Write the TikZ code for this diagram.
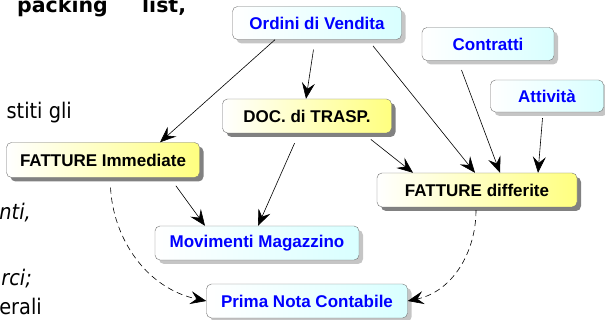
\documentclass[tikz,border=0pt]{standalone}
\usepackage{fontspec}
\setmainfont{DejaVu Sans}
\newfontfamily\pagefont{DejaVu Sans}[FakeStretch=0.9]
\newfontfamily\boxfont{Liberation Sans}
\usetikzlibrary{arrows.meta,shadows}

\tikzset{
  box/.style={rounded corners=5pt, draw=black!55, thin, inner sep=0pt,
    font=\boxfont\bfseries\fontsize{17}{19}\selectfont},
  docbox/.style={box, left color=white, right color=yellow!50,
    drop shadow={shadow xshift=4pt, shadow yshift=-4pt, fill=black!70, opacity=0.7}},
  infobox/.style={box, left color=white, right color=cyan!15, text=blue,
    drop shadow={shadow xshift=4pt, shadow yshift=-4pt, fill=black!45, opacity=0.5}},
  link/.style={-{Stealth[length=16pt,width=13pt,inset=6pt]}, line width=0.6pt},
  lazylink/.style={link, dash pattern=on 6pt off 4pt},
  frag/.style={font=\pagefont\fontsize{21.5}{24}\selectfont, inner sep=0pt, anchor=base east},
  boldfrag/.style={font=\bfseries\fontsize{20.5}{24}\selectfont, inner sep=0pt, anchor=base west}
}

\begin{document}
\begin{tikzpicture}[x=1pt,y=1pt]
    \useasboundingbox (0,0) rectangle (605,-320);
    \clip (0,0) rectangle (605,-320);

    % cut off text of the page behind
    \node[boldfrag] (packing) at (17,-13) {packing};
    \node[boldfrag] (list) at (142,-13) {list,};
    \node[frag] (stiti) at (72,-119) {stiti gli};
    \node[frag] (nti) at (31,-220) {\itshape nti,};
    \node[frag] (rci) at (32,-286) {\itshape rci;};
    \node[frag] (erali) at (42,-315) {erali};

    % documents
    \node[infobox, minimum width=169pt, minimum height=33pt] (ordini) at (317,-23) {Ordini di Vendita};
    \node[infobox, minimum width=132pt, minimum height=33pt] (contratti) at (488,-44) {Contratti};
    \node[infobox, minimum width=113pt, minimum height=32pt] (attivita) at (547,-96) {Attività};
    \node[docbox, minimum width=169pt, minimum height=34pt] (doc) at (307,-116) {DOC. di TRASP.};
    \node[docbox, minimum width=193pt, minimum height=35pt] (fimm) at (103,-160) {FATTURE Immediate};
    \node[docbox, minimum width=200pt, minimum height=34pt] (fdiff) at (477,-190) {FATTURE differite};
    \node[infobox, minimum width=204pt, minimum height=34pt] (mov) at (257,-243) {Movimenti Magazzino};
    \node[infobox, minimum width=201pt, minimum height=34pt] (prima) at (307,-301) {Prima Nota Contabile};

    % flows
    \draw[link] ([xshift=-42pt]ordini.south) -- ([xshift=57pt]fimm.north);
    \draw[link, shorten <=10pt] ([xshift=-2pt]ordini.south) -- ([xshift=-1pt]doc.north);
    \draw[link, shorten <=8pt] ([xshift=51pt]ordini.south) -- ([xshift=-2pt]fdiff.north);
    \draw[link, shorten <=10pt] ([xshift=-30pt]contratti.south) -- ([xshift=23pt]fdiff.north);
    \draw[link, shorten <=6pt] ([xshift=-4pt]attivita.south) -- ([xshift=61pt]fdiff.north);
    \draw[link, shorten <=10pt] ([xshift=56pt]doc.south) -- ([xshift=-64pt]fdiff.north);
    \draw[link, shorten <=11pt] ([xshift=-8pt]doc.south) -- ([xshift=1pt]mov.north);
    \draw[link, shorten <=10pt] ([xshift=67pt]fimm.south) -- ([xshift=-52pt]mov.north);

    % accounting
    \draw[lazylink, shorten <=10pt] ([xshift=7pt]fimm.south) to[out=-87, in=168] (prima.west);
    \draw[lazylink, shorten <=3pt] ([xshift=-1pt]fdiff.south) to[out=-90, in=12] (prima.east);
\end{tikzpicture}
\end{document}
